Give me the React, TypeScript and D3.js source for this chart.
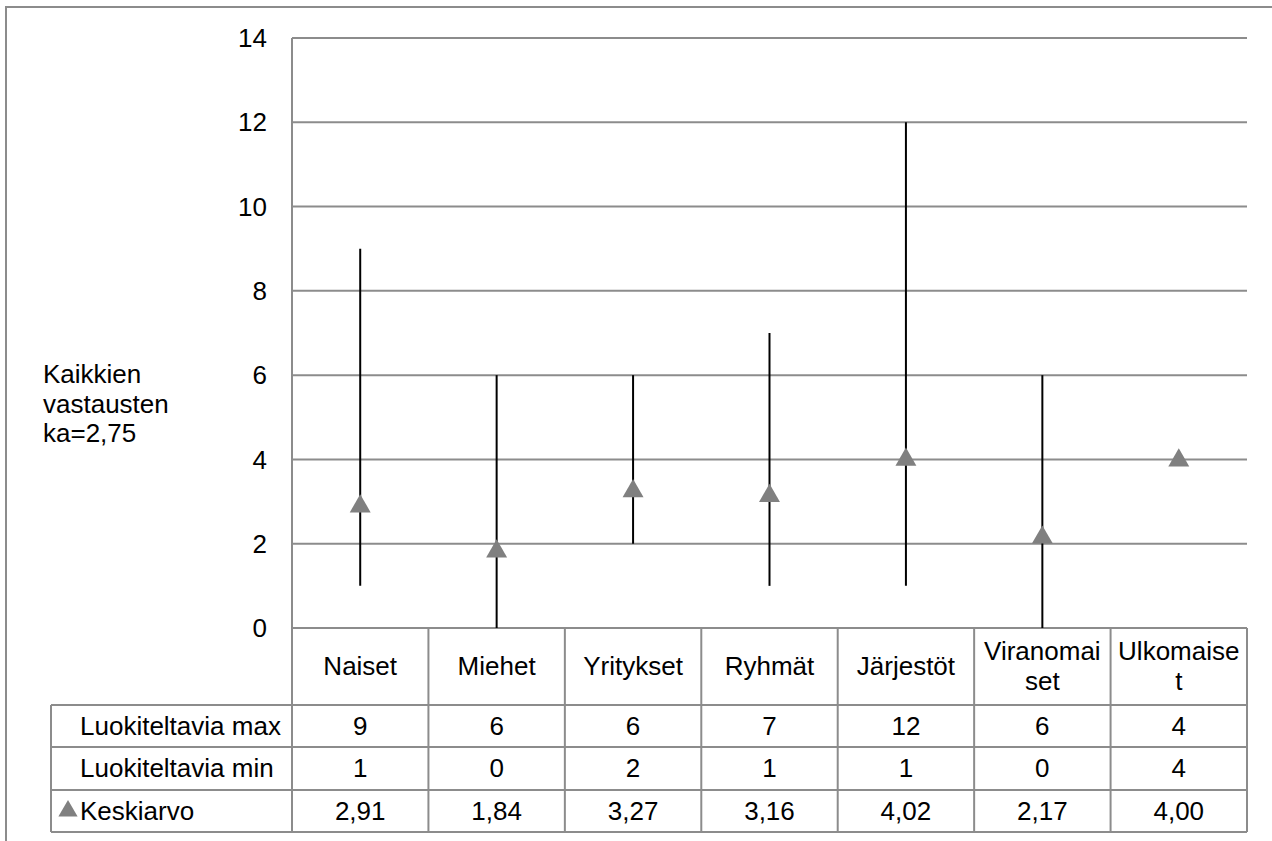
import React from "react"
import * as d3 from "d3"

const categories = ["Naiset", "Miehet", "Yritykset", "Ryhmät", "Järjestöt", "Viranomaiset", "Ulkomaiset"]
// header text as wrapped in the original table cells
const categoryLines = [["Naiset"], ["Miehet"], ["Yritykset"], ["Ryhmät"], ["Järjestöt"], ["Viranomai", "set"], ["Ulkomaise", "t"]]
const maxValues = [9, 6, 6, 7, 12, 6, 4]
const minValues = [1, 0, 2, 1, 1, 0, 4]
const meanValues = [2.91, 1.84, 3.27, 3.16, 4.02, 2.17, 4.0]
const yTicks = [0, 2, 4, 6, 8, 10, 12, 14]
const yTitle = ["Kaikkien", "vastausten", "ka=2,75"]
const rowLabels = ["Luokiteltavia max", "Luokiteltavia min", "Keskiarvo"]

const W = 1272
const H = 841
const margin = { top: 38, right: 25, bottom: 213, left: 292 }
const gridColor = "#8c8c8c"
const markColor = "#808080"
const font = "'Liberation Sans', Arial, sans-serif"
const fs = 26

const tableLeft = 51
const rowEdges = [705, 747, 790, 832]

const fmt = (v: number) => d3.format(".2f")(v).replace(".", ",")

const App: React.FC = () => {
	const x = d3
		.scaleBand<string>()
		.domain(categories)
		.range([margin.left, W - margin.right])
		.padding(0)
	const y = d3
		.scaleLinear()
		.domain([0, 14])
		.range([H - margin.bottom, margin.top])

	const x0 = margin.left
	const x1 = W - margin.right
	const y0 = y(0)
	const bw = x.bandwidth()

	const tri = d3.symbol().type(d3.symbolTriangle).size(190)

	const rows = [maxValues.map(String), minValues.map(String), meanValues.map(fmt)]

	return (
		<svg
			width={W}
			height={H}
			style={{ position: "absolute", left: 0, top: 0, background: "#fff" }}
			fontFamily={font}>
			{/* outer chart frame */}
			<rect x={6} y={7} width={1400} height={1000} fill="none" stroke={gridColor} strokeWidth={2} />

			{/* gridlines */}
			{yTicks.map((t) => (
				<line key={t} x1={x0} x2={x1} y1={y(t)} y2={y(t)} stroke={gridColor} strokeWidth={2} />
			))}
			<line x1={x0} x2={x0} y1={margin.top} y2={rowEdges[3]} stroke={gridColor} strokeWidth={2} />

			{/* y tick labels */}
			{yTicks.map((t) => (
				<text key={t} x={267} y={y(t)} dy="0.35em" textAnchor="end" fontSize={fs} fill="#000">
					{t}
				</text>
			))}

			{/* y title */}
			<text x={43} y={383} fontSize={fs} fill="#000">
				{yTitle.map((l, i) => (
					<tspan key={i} x={43} y={383 + i * 29.5}>
						{l}
					</tspan>
				))}
			</text>

			{/* min-max whiskers */}
			{categories.map((c, i) => (
				<line
					key={c}
					x1={x(c)! + bw / 2}
					x2={x(c)! + bw / 2}
					y1={y(minValues[i])}
					y2={y(maxValues[i])}
					stroke="#000"
					strokeWidth={2}
				/>
			))}

			{/* mean markers */}
			{categories.map((c, i) => (
				<path
					key={c}
					d={tri()!}
					transform={`translate(${x(c)! + bw / 2},${y(meanValues[i]) + 1})`}
					fill={markColor}
				/>
			))}

			{/* data table */}
			<g stroke={gridColor} strokeWidth={2}>
				{rowEdges.map((ry) => (
					<line key={ry} x1={tableLeft} x2={x1} y1={ry} y2={ry} />
				))}
				<line x1={tableLeft} x2={tableLeft} y1={rowEdges[0]} y2={rowEdges[3]} />
				{categories.map((c) => (
					<line key={c} x1={x(c)! + bw} x2={x(c)! + bw} y1={y0} y2={rowEdges[3]} />
				))}
			</g>

			{/* header labels */}
			{categories.map((c, i) => {
				const lines = categoryLines[i]
				const base = lines.length === 1 ? 675 : 660
				return (
					<text key={c} textAnchor="middle" fontSize={fs} fill="#000">
						{lines.map((l, j) => (
							<tspan key={j} x={x(c)! + bw / 2} y={base + j * 30}>
								{l}
							</tspan>
						))}
					</text>
				)
			})}

			{/* row labels and values */}
			{rowLabels.map((lab, r) => {
				const base = rowEdges[r] + 30
				return (
					<g key={lab}>
						{r === 2 && (
							<path d={d3.symbol().type(d3.symbolTriangle).size(160)()!} transform={`translate(68,${base - 9})`} fill={markColor} />
						)}
						<text x={80} y={base} fontSize={fs} fill="#000">
							{lab}
						</text>
						{categories.map((c, i) => (
							<text key={c} x={x(c)! + bw / 2} y={base} textAnchor="middle" fontSize={fs} fill="#000">
								{rows[r][i]}
							</text>
						))}
					</g>
				)
			})}
		</svg>
	)
}

export default App
